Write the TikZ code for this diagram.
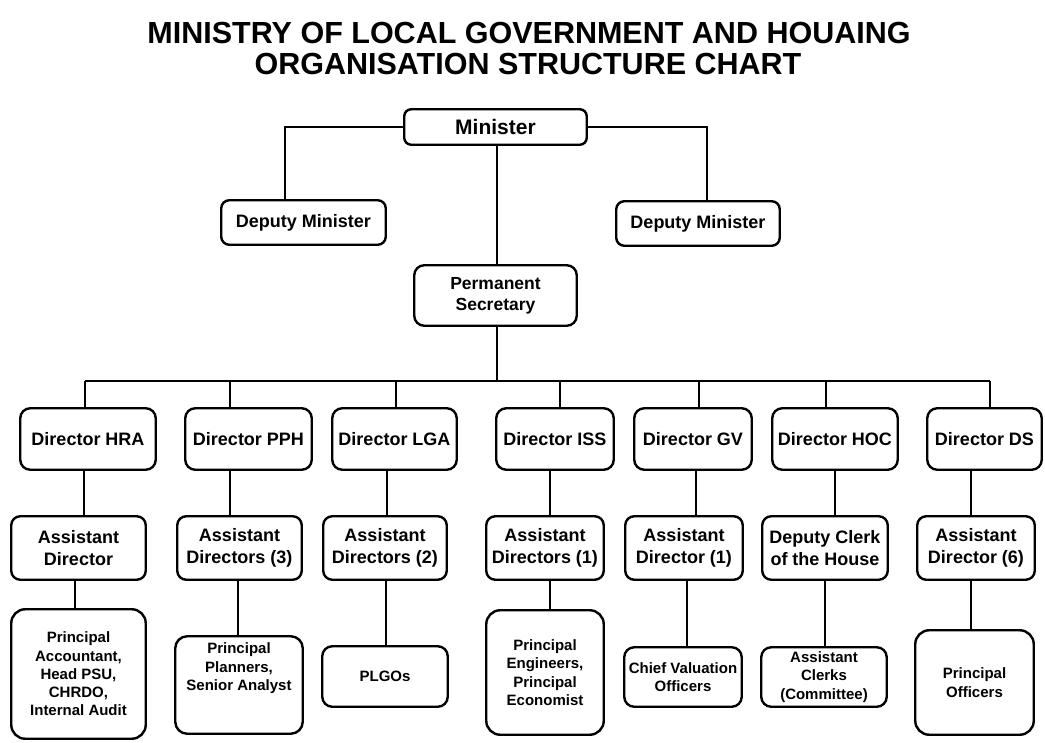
\documentclass[tikz,border=0pt]{standalone}
\usepackage{fontspec}
\setmainfont{Liberation Sans}
\begin{document}
\begin{tikzpicture}[x=1pt,y=-1pt,
  box/.style={draw, line width=2.4pt, rounded corners=9pt, align=center, inner sep=0pt,
    font=\bfseries\fontsize{18}{21}\selectfont},
  midbox/.style={box, font=\bfseries\fontsize{18}{22}\selectfont},
  lowbox/.style={box, font=\bfseries\fontsize{15}{18.3}\selectfont, rounded corners=14pt},
  lowsmall/.style={lowbox, rounded corners=10pt},
  conn/.style={line width=2.4pt},
  titlefont/.style={anchor=base, inner sep=0pt, font=\bfseries\fontsize{30.5}{36}\selectfont}
]
\fill[white] (0,0) rectangle (1045,743);
\useasboundingbox (0,0) rectangle (1045,743);

% Title
\node[titlefont] (t1) at (529,44) {MINISTRY OF LOCAL GOVERNMENT AND HOUAING};
\node[titlefont] (t2) at (528,75) {ORGANISATION STRUCTURE CHART};

% Top
\node[box, rounded corners=7pt, minimum width=182.5, minimum height=35.5,
      font=\bfseries\fontsize{21}{24}\selectfont] (min) at (495.5,127) {Minister};
\node[box, rounded corners=8pt, minimum width=164.5, minimum height=44.5] (depl) at (303.5,222.5) {Deputy Minister};
\node[box, rounded corners=8pt, minimum width=163.5, minimum height=44.5] (depr) at (698,223.5) {Deputy Minister};
\node[box, rounded corners=10pt, minimum width=162.5, minimum height=60.5,
      font=\bfseries\fontsize{17.5}{21}\selectfont] (ps) at (495.5,295.5) {Permanent\\Secretary};

% Directors
\foreach \n/\cx/\w/\t in {dhra/88/135.5/HRA, dpph/248.5/126.5/PPH, dlga/394.5/124.5/LGA,
  diss/555/117.5/ISS, dgv/693/117.5/GV, dhoc/835/125.5/HOC, dds/984.5/114.5/DS}{
  \node[box, rounded corners=10pt, minimum width=\w, minimum height=61.5] (\n) at (\cx,439) {Director \t};
}

% Middle row
\node[midbox, minimum width=134.5, minimum height=63.5] (ahra) at (78.5,548) {Assistant\\Director};
\node[midbox, minimum width=124.5, minimum height=63.5] (apph) at (239.5,548) {Assistant\\Directors (3)};
\node[midbox, minimum width=123.5, minimum height=63.5] (alga) at (385,548) {Assistant\\Directors (2)};
\node[midbox, minimum width=117.5, minimum height=63.5] (aiss) at (545,548) {Assistant\\Directors (1)};
\node[midbox, minimum width=117.5, minimum height=63.5] (agv) at (684,548) {Assistant\\Director (1)};
\node[midbox, minimum width=125.5, minimum height=63.5] (ahoc) at (825,548) {Deputy Clerk\\of the House};
\node[midbox, minimum width=117.5, minimum height=63.5] (ads) at (976,548) {Assistant\\Director (6)};

% Bottom row
\node[lowbox, minimum width=134.5, minimum height=129.5] (bhra) at (78.5,674)
  {Principal\\Accountant,\\Head PSU,\\CHRDO,\\Internal Audit};
\node[lowbox, rounded corners=12pt, minimum width=127.5, minimum height=97.5] (bpph) at (239,685)
  {Principal\\Planners,\\Senior Analyst\\~\\~};
\node[lowsmall, minimum width=125.5, minimum height=60.5] (blga) at (385,676.5) {PLGOs};
\node[lowbox, minimum width=117.5, minimum height=124.5] (biss) at (545,672.5)
  {Principal\\Engineers,\\Principal\\Economist};
\node[lowsmall, minimum width=117.5, minimum height=59.5] (bgv) at (683,677) {Chief Valuation\\Officers};
\node[lowsmall, minimum width=125.5, minimum height=59.5] (bhoc) at (824,677) {Assistant\\Clerks\\(Committee)};
\node[lowbox, minimum width=118.5, minimum height=104.5] (bds) at (974.5,682.5) {Principal\\Officers};

% Connector helper coordinates
\coordinate (kL) at (285,0);
\coordinate (kR) at (707,0);
\coordinate (pk) at (497,0);
\coordinate (busL) at (85,381);
\coordinate (busR) at (990,381);

% Top connectors
\draw[conn] (min.west) -| (kL |- depl.north);
\draw[conn] (min.east) -| (kR |- depr.north);
\draw[conn] (pk |- min.south) -- (pk |- ps.north);
\draw[conn] (pk |- ps.south) -- (pk |- busL);
\draw[conn] (busL) -- (busR);

% Bus to directors
\foreach \n/\x in {dhra/85, dpph/230, dlga/396, diss/560, dgv/699, dhoc/826, dds/990}{
  \coordinate (c\n) at (\x,381);
  \draw[conn] (c\n) -- (c\n |- \n.north);
}

% Directors to middle row
\foreach \a/\b/\x in {dhra/ahra/84, dpph/apph/230, dlga/alga/387, diss/aiss/550,
  dgv/agv/696, dhoc/ahoc/835, dds/ads/971}{
  \coordinate (u\a) at (\x,0);
  \draw[conn] (u\a |- \a.south) -- (u\a |- \b.north);
}

% Middle row to bottom row
\foreach \a/\b/\x in {ahra/bhra/75, apph/bpph/238, alga/blga/386, aiss/biss/550,
  agv/bgv/687, ahoc/bhoc/825, ads/bds/971}{
  \coordinate (w\a) at (\x,0);
  \draw[conn] (w\a |- \a.south) -- (w\a |- \b.north);
}
\end{tikzpicture}
\end{document}
